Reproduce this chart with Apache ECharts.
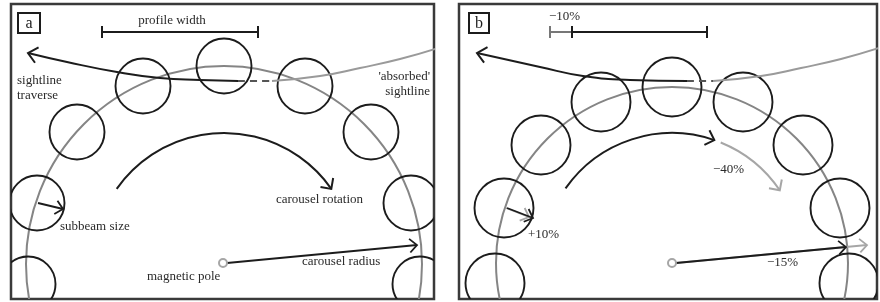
<!DOCTYPE html>
<html>

<head>
  <meta charset="utf-8">
  <title>carousel</title>
  <script src="https://cdn.jsdelivr.net/npm/echarts@6/dist/echarts.min.js"></script>
  <style>
    html, body { margin: 0; padding: 0; background: #fff; }
    #chart { width: 880px; height: 302px; }
  </style>
</head>

<body>
  <div id="chart"></div>
  <script>
    // panel frames: [left, top, right, bottom] in px
    const frameA = [11, 4, 434, 299];
    const frameB = [459, 4, 877, 299];

    // carousel ring: [cx, cy, radius]
    const ringA = [[224, 264, 198]];
    const ringB = [[672, 263, 176]];

    // subbeam centres and radius
    const beamsA = [[224, 66], [143, 86], [77, 132], [37, 203], [28, 284], [305, 86], [371, 132], [411, 203], [420, 284]];
    const beamsB = [[672, 87], [601, 102], [541, 145], [504, 208], [495, 283], [743, 102], [803, 145], [840, 208], [849, 283]];
    const beamRadiusA = 27.5;
    const beamRadiusB = 29.5;

    // sightline: traverse (black), fade (dashed), absorbed (grey)
    const sightA = [[28, 53], [67, 62], [117, 72], [160, 78], [200, 80], [238, 81]];
    const fadeA = [[238, 81], [272, 81]];
    const absorbedA = [[272, 81], [320, 76], [360, 68], [400, 59], [438, 48]];
    const sightB = [[477, 53], [540, 67], [583, 76], [630, 80], [687, 81]];
    const fadeB = [[687, 81], [713, 81]];
    const absorbedB = [[713, 81], [761, 76], [801, 68], [841, 59], [879, 48]];

    // rotation arcs: [cx, cy, r, startDeg, endDeg]
    const rotA = [[224, 264, 131, 145, 35]];
    const rotB = [[672, 263, 130, 145, 71]];
    const rotBLost = [[672, 263, 130, 68, 34]];

    // straight arrows: [x0, y0, x1, y1]
    const arrowsA = [[38, 203, 63, 209], [227, 263, 417, 245]];
    const arrowsB = [[507, 208, 533, 218], [676, 263, 846, 247]];
    const arrowsBOld = [[506, 208, 529, 217], [676, 263, 867, 245]];

    // magnetic poles
    const polesA = [[223, 263]];
    const polesB = [[672, 263]];

    // width bars: [x0, x1, y]
    const barsA = [[102, 258, 32]];
    const barsB = [[572, 707, 32]];
    const barsBCut = [[550, 572, 32]];

    // panel tags: [x, y, w, h]
    const tagA = [[18, 13, 22, 20]];
    const tagB = [[469, 13, 20, 20]];

    // annotations: [x, y, text, align]
    const notesA = [
      [172, 21, 'profile width', 'center'],
      [17, 81, 'sightline', 'left'],
      [17, 96, 'traverse', 'left'],
      [430, 77, '\'absorbed\'', 'right'],
      [430, 92, 'sightline', 'right'],
      [60, 227, 'subbeam size', 'left'],
      [147, 277, 'magnetic pole', 'left'],
      [276, 200, 'carousel rotation', 'left'],
      [302, 262, 'carousel radius', 'left']
    ];
    const notesB = [
      [549, 17, '\u221210%', 'left'],
      [713, 170, '\u221240%', 'left'],
      [528, 235, '+10%', 'left'],
      [767, 263, '\u221215%', 'left']
    ];

    const FONT = '13px "Liberation Serif", "DejaVu Serif", serif';
    const INK = '#1c1c1c';
    const GREY = '#858585';
    const PALE = '#a6a6a6';

    const chart = echarts.init(document.getElementById('chart'));

    function rot(v, a) {
      return [v[0] * Math.cos(a) - v[1] * Math.sin(a), v[0] * Math.sin(a) + v[1] * Math.cos(a)];
    }

    // open chevron at tip, dir points forward
    function head(tip, dir, len, spread) {
      const back = [-dir[0], -dir[1]];
      const p1 = rot(back, spread), p2 = rot(back, -spread);
      return [[tip[0] + p1[0] * len, tip[1] + p1[1] * len], tip, [tip[0] + p2[0] * len, tip[1] + p2[1] * len]];
    }

    function unit(a, b) {
      const dx = b[0] - a[0], dy = b[1] - a[1];
      const l = Math.sqrt(dx * dx + dy * dy) || 1;
      return [dx / l, dy / l];
    }

    function base(panel) {
      return { type: 'custom', xAxisIndex: panel, yAxisIndex: panel, clip: true, silent: true };
    }

    function circles(panel, data, stroke, width, fill) {
      return Object.assign(base(panel), {
        data: data,
        renderItem: function (params, api) {
          const c = api.coord([api.value(0), api.value(1)]);
          const r = api.size([api.value(2), api.value(2)])[0];
          return {
            type: 'circle', shape: { cx: c[0], cy: c[1], r: r },
            style: { fill: fill || 'none', stroke: stroke, lineWidth: width }
          };
        }
      });
    }

    function arrows(panel, data, stroke, width, len) {
      return Object.assign(base(panel), {
        data: data,
        renderItem: function (params, api) {
          const a = api.coord([api.value(0), api.value(1)]);
          const b = api.coord([api.value(2), api.value(3)]);
          return {
            type: 'group', children: [
              { type: 'line', shape: { x1: a[0], y1: a[1], x2: b[0], y2: b[1] }, style: { stroke: stroke, lineWidth: width } },
              { type: 'polyline', shape: { points: head(b, unit(a, b), len, 0.75) }, style: { stroke: stroke, lineWidth: width, fill: 'none' } }
            ]
          };
        }
      });
    }

    function arcs(panel, data, stroke, width) {
      return Object.assign(base(panel), {
        data: data,
        renderItem: function (params, api) {
          const c = api.coord([api.value(0), api.value(1)]);
          const r = api.size([api.value(2), api.value(2)])[0];
          const a0 = -api.value(3) * Math.PI / 180;
          const a1 = -api.value(4) * Math.PI / 180;
          const tip = [c[0] + r * Math.cos(a1), c[1] + r * Math.sin(a1)];
          const dir = [-Math.sin(a1), Math.cos(a1)];
          return {
            type: 'group', children: [
              { type: 'arc', shape: { cx: c[0], cy: c[1], r: r, startAngle: a0, endAngle: a1, clockwise: true }, style: { stroke: stroke, lineWidth: width, fill: 'none' } },
              { type: 'polyline', shape: { points: head(tip, dir, 11, 0.78) }, style: { stroke: stroke, lineWidth: width, fill: 'none' } }
            ]
          };
        }
      });
    }

    // arrow head only, at the first point of a curve
    function curveHead(panel, curve, stroke, width) {
      return Object.assign(base(panel), {
        clip: false,
        data: [[curve[0][0], curve[0][1], curve[1][0], curve[1][1]]],
        renderItem: function (params, api) {
          const tip = api.coord([api.value(0), api.value(1)]);
          const from = api.coord([api.value(2), api.value(3)]);
          return {
            type: 'polyline', shape: { points: head(tip, unit(from, tip), 12, 0.72) },
            style: { stroke: stroke, lineWidth: width, fill: 'none' }
          };
        }
      });
    }

    function bars(panel, data, stroke, width) {
      return Object.assign(base(panel), {
        data: data,
        renderItem: function (params, api) {
          const a = api.coord([api.value(0), api.value(2)]);
          const b = api.coord([api.value(1), api.value(2)]);
          const st = { stroke: stroke, lineWidth: width };
          return {
            type: 'group', children: [
              { type: 'line', shape: { x1: a[0], y1: a[1], x2: b[0], y2: b[1] }, style: st },
              { type: 'line', shape: { x1: a[0], y1: a[1] - 6, x2: a[0], y2: a[1] + 6 }, style: st },
              { type: 'line', shape: { x1: b[0], y1: b[1] - 6, x2: b[0], y2: b[1] + 6 }, style: st }
            ]
          };
        }
      });
    }

    function tag(panel, data, text) {
      return Object.assign(base(panel), {
        clip: false,
        data: data,
        renderItem: function (params, api) {
          const p = api.coord([api.value(0), api.value(1)]);
          const s = api.size([api.value(2), api.value(3)]);
          return {
            type: 'group', children: [
              { type: 'rect', shape: { x: p[0], y: p[1], width: s[0], height: s[1] }, style: { fill: '#fff', stroke: INK, lineWidth: 2 } },
              { type: 'text', style: { x: p[0] + s[0] / 2, y: p[1] + s[1] / 2 + 1, text: text, font: '16px "Liberation Serif", serif', fill: INK, align: 'center', verticalAlign: 'middle' } }
            ]
          };
        }
      });
    }

    function notes(panel, list) {
      return Object.assign(base(panel), {
        clip: false,
        data: list.map(function (n) { return [n[0], n[1]]; }),
        renderItem: function (params, api) {
          const n = list[params.dataIndex];
          const p = api.coord([api.value(0), api.value(1)]);
          return {
            type: 'text',
            style: { x: p[0], y: p[1], text: n[2], font: FONT, fill: '#2a2a2a', align: n[3], verticalAlign: 'middle' }
          };
        }
      });
    }

    function curve(panel, data, color, width, dash) {
      return {
        type: 'line', xAxisIndex: panel, yAxisIndex: panel, data: data, smooth: 0.5,
        symbol: 'none', silent: true, clip: true,
        lineStyle: { color: color, width: width, type: dash || 'solid' }
      };
    }

    function beamData(beams, r) { return beams.map(function (b) { return [b[0], b[1], r]; }); }
    function poleData(poles) { return poles.map(function (p) { return [p[0], p[1], 4]; }); }

    function frameGrid(f) {
      return {
        left: f[0], top: f[1], width: f[2] - f[0], height: f[3] - f[1],
        show: true, borderColor: '#3a3a3a', borderWidth: 2.5, backgroundColor: '#fff'
      };
    }

    const option = {
      animation: false,
      backgroundColor: '#fff',
      grid: [frameGrid(frameA), frameGrid(frameB)],
      xAxis: [
        { gridIndex: 0, type: 'value', min: frameA[0], max: frameA[2], show: false },
        { gridIndex: 1, type: 'value', min: frameB[0], max: frameB[2], show: false }
      ],
      yAxis: [
        { gridIndex: 0, type: 'value', min: frameA[1], max: frameA[3], inverse: true, show: false },
        { gridIndex: 1, type: 'value', min: frameB[1], max: frameB[3], inverse: true, show: false }
      ],
      series: [
        // panel a
        circles(0, ringA, GREY, 2),
        curve(0, absorbedA, '#9a9a9a', 2),
        curve(0, fadeA, '#555', 2, [7, 5]),
        circles(0, beamData(beamsA, beamRadiusA), INK, 1.9),
        curve(0, sightA, INK, 2),
        curveHead(0, sightA, INK, 2),
        arcs(0, rotA, INK, 2),
        arrows(0, arrowsA, INK, 1.8, 10),
        circles(0, poleData(polesA), PALE, 2, '#fff'),
        bars(0, barsA, INK, 2),
        tag(0, tagA, 'a'),
        notes(0, notesA),
        // panel b
        circles(1, ringB, GREY, 2),
        curve(1, absorbedB, '#9a9a9a', 2),
        curve(1, fadeB, '#555', 2, [7, 5]),
        circles(1, beamData(beamsB, beamRadiusB), INK, 1.9),
        curve(1, sightB, INK, 2),
        curveHead(1, sightB, INK, 2),
        arcs(1, rotBLost, PALE, 2),
        arcs(1, rotB, INK, 2),
        arrows(1, arrowsBOld, PALE, 1.8, 10),
        arrows(1, arrowsB, INK, 1.8, 10),
        circles(1, poleData(polesB), PALE, 2, '#fff'),
        bars(1, barsBCut, '#777', 2),
        bars(1, barsB, INK, 2),
        tag(1, tagB, 'b'),
        notes(1, notesB)
      ]
    };

    chart.setOption(option);
  </script>
</body>

</html>
